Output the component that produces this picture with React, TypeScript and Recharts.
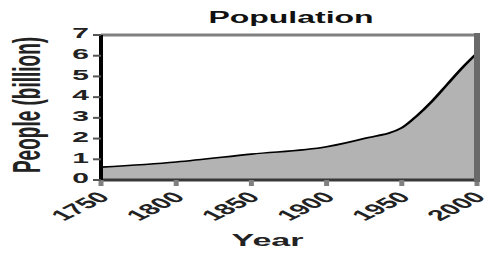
import React from "react";
import {
  Area,
  AreaChart,
  Label,
  ReferenceLine,
  XAxis,
  YAxis,
} from "recharts";

// values
const years = [1750, 1800, 1850, 1900, 1925, 1950, 1960, 1970, 1980, 1990, 2000];
const people = [0.62, 0.87, 1.25, 1.6, 2.0, 2.52, 3.1, 3.8, 4.6, 5.4, 6.12];
const yearTicks = [1750, 1800, 1850, 1900, 1950, 2000];
const peopleTicks = [0, 1, 2, 3, 4, 5, 6, 7];

const data = years.map((year, i) => ({ year, people: people[i] }));

const FONT = "'Liberation Sans', Arial, sans-serif";
const FRAME = "#6a6a6a";

// the picture is stretched 2x sideways, so the chart is drawn half as wide
// and scaled back up
const W = 246;
const H = 253;

const XTick = (props: any) => {
  const { x, y, payload } = props;
  const ax = x + 5;
  const ay = y + 10;
  return (
    <text
      x={ax}
      y={ay}
      transform={`rotate(-45 ${ax} ${ay})`}
      textAnchor="end"
      fontFamily={FONT}
      fontWeight="bold"
      fontSize={15}
      fill="#222"
    >
      {payload.value}
    </text>
  );
};

const YTick = (props: any) => {
  const { x, y, payload } = props;
  return (
    <text
      x={x}
      y={y - 2}
      dy="0.355em"
      textAnchor="end"
      fontFamily={FONT}
      fontWeight="bold"
      fontSize={15}
      fill="#222"
    >
      {payload.value}
    </text>
  );
};

export default function App() {
  return (
    <div
      style={{
        position: "absolute",
        left: 0,
        top: 0,
        width: 491,
        height: 253,
        overflow: "hidden",
        background: "#fff",
      }}
    >
      <div style={{ width: W, height: H, transform: "scaleX(2)", transformOrigin: "0 0" }}>
        <AreaChart
          width={W}
          height={H}
          data={data}
          margin={{ top: 34, right: 6.5, bottom: 33, left: 0 }}
        >
          <Area
            type="monotone"
            dataKey="people"
            stroke="#000"
            strokeWidth={1.6}
            fill="#b3b3b3"
            fillOpacity={1}
            baseValue={0}
            dot={false}
            activeDot={false}
            isAnimationActive={false}
          />
          <XAxis
            dataKey="year"
            type="number"
            domain={[1750, 2000]}
            ticks={yearTicks}
            height={40}
            axisLine={{ stroke: "#383838", strokeWidth: 3 }}
            tickLine={{ stroke: "#808080", strokeWidth: 2.5 }}
            tickSize={6}
            tickMargin={2}
            tick={<XTick />}
            interval={0}
          >
            <Label
              content={() => (
                <text
                  x={133.75}
                  y={246}
                  textAnchor="middle"
                  fontFamily={FONT}
                  fontWeight="bold"
                  fontSize={17}
                  fill="#222"
                >
                  Year
                </text>
              )}
            />
            <Label
              content={() => (
                <text
                  x={145.5}
                  y={23}
                  textAnchor="middle"
                  fontFamily={FONT}
                  fontWeight="bold"
                  fontSize={16}
                  fill="#111"
                >
                  Population
                </text>
              )}
            />
          </XAxis>
          {/* top and right frame lines */}
          <XAxis
            xAxisId="top"
            orientation="top"
            type="number"
            domain={[1750, 2000]}
            height={1}
            tick={false}
            tickLine={false}
            axisLine={{ stroke: "#808080", strokeWidth: 3 }}
          />
          <YAxis
            yAxisId="right"
            orientation="right"
            type="number"
            domain={[0, 7]}
            width={1}
            tick={false}
            tickLine={false}
            axisLine={{ stroke: FRAME, strokeWidth: 3 }}
          />
          <YAxis
            type="number"
            domain={[0, 7]}
            ticks={peopleTicks}
            width={50.5}
            axisLine={{ stroke: "#000", strokeWidth: 2 }}
            tickLine={{ stroke: "#555", strokeWidth: 2 }}
            tickSize={4}
            tickMargin={2}
            tick={<YTick />}
            interval={0}
          >
            <Label
              content={() => (
                <text
                  x={20}
                  y={105}
                  transform="rotate(-90 20 105)"
                  textAnchor="middle"
                  fontFamily={FONT}
                  fontWeight="bold"
                  fontSize={19}
                  fill="#222"
                >
                  People (billion)
                </text>
              )}
            />
          </YAxis>
          <ReferenceLine x={2000} stroke={FRAME} strokeWidth={3} ifOverflow="visible" />
        </AreaChart>
      </div>
      {/* plain frame edge on the right, in case the svg one is lost */}
      <div
        style={{
          position: "absolute",
          left: 474,
          top: 33,
          width: 6,
          height: 149,
          background: FRAME,
        }}
      />
    </div>
  );
}
